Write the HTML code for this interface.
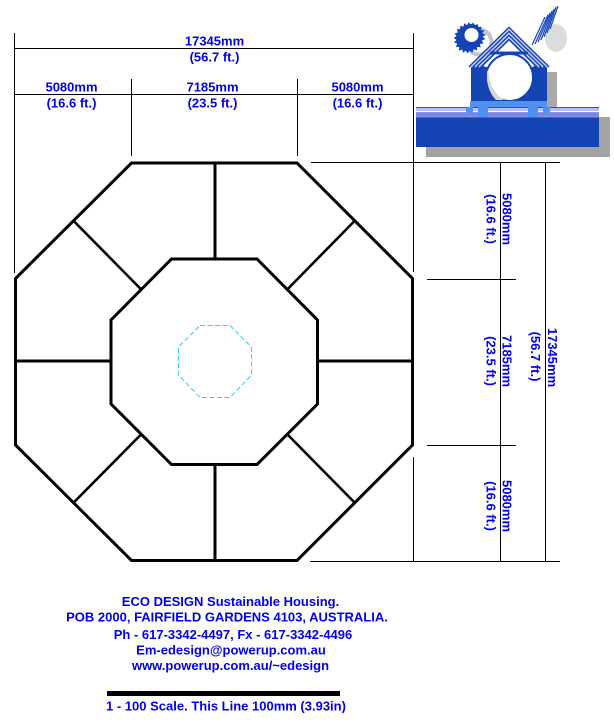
<!DOCTYPE html>
<html>
<head>
<meta charset="utf-8">
<style>
html,body{margin:0;padding:0;background:#fff;}
body{width:614px;height:724px;overflow:hidden;}
svg{display:block;}
text{font-family:"Liberation Sans",Arial,sans-serif;font-weight:bold;font-size:13px;fill:#0000ee;}
</style>
</head>
<body>
<svg width="614" height="724" viewBox="0 0 614 724" xmlns="http://www.w3.org/2000/svg">
<rect x="0" y="0" width="614" height="724" fill="#fff"/>

<!-- thin dimension lines -->
<g stroke="#000" stroke-width="1" fill="none" shape-rendering="crispEdges">
  <line x1="14.5" y1="33" x2="14.5" y2="273"/>
  <line x1="413.5" y1="33" x2="413.5" y2="272"/>
  <line x1="14.5" y1="48.5" x2="413.5" y2="48.5"/>
  <line x1="14.5" y1="94.5" x2="413.5" y2="94.5"/>
  <line x1="131.5" y1="79" x2="131.5" y2="156"/>
  <line x1="297.5" y1="79" x2="297.5" y2="156"/>
  <line x1="311" y1="162.5" x2="560" y2="162.5"/>
  <line x1="310" y1="561.5" x2="560" y2="561.5"/>
  <line x1="413.5" y1="457" x2="413.5" y2="561"/>
  <line x1="500.5" y1="162" x2="500.5" y2="561"/>
  <line x1="545.5" y1="162" x2="545.5" y2="561"/>
  <line x1="427" y1="279.5" x2="516" y2="279.5"/>
  <line x1="427" y1="445.5" x2="516" y2="445.5"/>
</g>

<!-- top dimension labels -->
<text x="214.5" y="45.5" text-anchor="middle">17345mm</text>
<text x="214.5" y="61.5" text-anchor="middle">(56.7 ft.)</text>
<text x="71.5" y="91.5" text-anchor="middle">5080mm</text>
<text x="71.5" y="107.5" text-anchor="middle">(16.6 ft.)</text>
<text x="212.5" y="91.5" text-anchor="middle">7185mm</text>
<text x="212.5" y="107.5" text-anchor="middle">(23.5 ft.)</text>
<text x="357.5" y="91.5" text-anchor="middle">5080mm</text>
<text x="357.5" y="107.5" text-anchor="middle">(16.6 ft.)</text>

<!-- right vertical labels -->
<text transform="translate(502.5,219) rotate(90)" text-anchor="middle">5080mm</text>
<text transform="translate(486.5,219) rotate(90)" text-anchor="middle">(16.6 ft.)</text>
<text transform="translate(502.5,361) rotate(90)" text-anchor="middle">7185mm</text>
<text transform="translate(486.5,361) rotate(90)" text-anchor="middle">(23.5 ft.)</text>
<text transform="translate(502.5,506) rotate(90)" text-anchor="middle">5080mm</text>
<text transform="translate(486.5,506) rotate(90)" text-anchor="middle">(16.6 ft.)</text>
<text transform="translate(548,357.5) rotate(90)" text-anchor="middle">17345mm</text>
<text transform="translate(531,356.5) rotate(90)" text-anchor="middle">(56.7 ft.)</text>

<!-- octagon plan -->
<g stroke="#000" stroke-width="3" fill="none" stroke-linejoin="miter">
  <polygon points="131.5,163 297,163 412.5,278.5 412.5,445 297,560.5 131.5,560.5 15.5,445 15.5,278.5"/>
  <polygon points="171.5,259 257,259 317.5,320 317.5,404 257,464.5 171.5,464.5 111,404 111,320"/>
  <line x1="215" y1="163" x2="215" y2="259"/>
  <line x1="215" y1="464.5" x2="215" y2="560.5"/>
  <line x1="15.5" y1="361" x2="111" y2="361"/>
  <line x1="317.5" y1="361" x2="412.5" y2="361"/>
</g>
<g stroke="#000" stroke-width="2.6" fill="none">
  <line x1="73.5" y1="220.75" x2="141.25" y2="289.5"/>
  <line x1="354.75" y1="220.75" x2="287.25" y2="289.5"/>
  <line x1="73.5" y1="502.75" x2="141.25" y2="434.25"/>
  <line x1="354.75" y1="502.75" x2="287.25" y2="434.25"/>
</g>
<polygon points="200,325.5 230,325.5 251.5,347 251.5,375 230,397.5 200,397.5 178.5,375 178.5,347" fill="none" stroke="#33ccff" stroke-width="1" stroke-dasharray="5 2.5"/>

<!-- LOGO -->
<g>
  <!-- shadows -->
  <rect x="426" y="117" width="184" height="40" fill="#a3a3a3"/>
  <rect x="547" y="72" width="10" height="36" fill="#a8a8a8"/>
  <circle cx="479" cy="42" r="12.5" fill="none" stroke="#c4c4c4" stroke-width="4"/>
  <ellipse cx="556" cy="38" rx="11" ry="14" fill="#dcdcdc"/>
  <!-- base -->
  <rect x="416" y="107" width="183" height="40" fill="#1444b4"/>
  <rect x="416" y="107" width="183" height="11" fill="#8a94e6"/>
  <rect x="416" y="108" width="183" height="3" fill="#b4bcf6"/>
  <rect x="416" y="111" width="183" height="1" fill="#ffffff"/>
  <rect x="416" y="113" width="183" height="3" fill="#7c86e0"/>
  <rect x="416" y="117" width="183" height="1" fill="#4a5ccc"/>
  <rect x="416" y="107" width="183" height="1" fill="#3050c0"/>
  <g fill="#2a50c8" opacity="0.6">
    <rect x="430" y="125" width="1" height="1"/><rect x="452" y="132" width="1" height="1"/>
    <rect x="478" y="128" width="1" height="1"/><rect x="505" y="138" width="1" height="1"/>
    <rect x="540" y="126" width="1" height="1"/><rect x="570" y="135" width="1" height="1"/>
  </g>
  <!-- house walls -->
  <rect x="471" y="66" width="76" height="36" fill="#1444b4"/>
  <!-- white area under roof -->
  <polygon points="484,67 509,42 534,67" fill="#ffffff"/>
  <!-- roof stripes -->
  <g fill="none" stroke-width="1.6">
    <polyline points="469,67 509,27.5 549,67" stroke="#1444b4"/>
    <polyline points="471,67 509,29.5 547,67" stroke="#c8d0ff"/>
    <polyline points="473,67 509,31.5 545,67" stroke="#1444b4"/>
    <polyline points="475,67 509,33.5 543,67" stroke="#c8d0ff"/>
    <polyline points="477,67 509,35.5 541,67" stroke="#1444b4"/>
    <polyline points="479,67 509,37.5 539,67" stroke="#c8d0ff"/>
    <polyline points="481,67 509,39.5 537,67" stroke="#1444b4"/>
  </g>
  <line x1="490" y1="53" x2="528" y2="53" stroke="#1444b4" stroke-width="3"/>
  <!-- circle window -->
  <circle cx="509.5" cy="77.5" r="23.5" fill="#ffffff" stroke="#1444b4" stroke-width="2"/>
  <path d="M488,70 Q490,92 504,100 L496,100 Q486,90 487,72 Z" fill="#d6d6d6"/>
  <!-- light blue bar & tabs -->
  <rect x="470" y="101" width="77" height="6" fill="#5090f0"/>
  <rect x="478" y="101" width="10" height="16" fill="#5090f0"/>
  <rect x="528" y="101" width="10" height="16" fill="#5090f0"/>
  <rect x="466" y="107" width="7" height="6" fill="#5090f0"/>
  <rect x="543" y="107" width="7" height="6" fill="#5090f0"/>
  <!-- sun -->
  <polygon fill="#1444b4" points="486,34.5 482.7,36.9 485.3,39.1 481.7,40.6 483.6,43.4 479.8,44 480.8,47.3 477,47 477,50.4 473.6,49.4 472.4,52.6 469.6,50.6 467.6,53.3 465.6,50.6 463,52.9 462.2,49.5 458.8,50.6 459.2,47 455.8,46.9 457.3,43.6 454.1,42.6 456.3,39.9 453.6,37.9 456.5,36.2 454.6,33.3 457.8,32.5 456.9,29.1 460.3,29.1 460.2,25.6 463.4,26.8 464.2,23.3 467,25.3 468.7,22.2 470.8,24.9 473.2,22.4 474.5,25.6 477.7,24 478.1,27.5 481.5,26.6 481,30.1 484.4,30.2 482.6,33.2"/>
  <circle cx="471.5" cy="35" r="11" fill="#1444b4"/>
  <circle cx="471.5" cy="35" r="7" fill="#ffffff"/>
  <!-- rain -->
  <g stroke="#1444b4" stroke-width="1.2">
    <line x1="532" y1="45" x2="545" y2="17"/>
    <line x1="535" y1="44" x2="548" y2="15"/>
    <line x1="538" y1="42" x2="550" y2="13"/>
    <line x1="541" y1="40" x2="552" y2="11"/>
    <line x1="544" y1="37" x2="554" y2="9"/>
    <line x1="547" y1="33" x2="556" y2="7"/>
    <line x1="550" y1="29" x2="558" y2="6"/>
  </g>
</g>

<!-- footer text -->
<text x="230.5" y="606" text-anchor="middle">ECO DESIGN Sustainable Housing.</text>
<text x="227" y="621.5" text-anchor="middle">POB 2000, FAIRFIELD GARDENS 4103, AUSTRALIA.</text>
<text x="233" y="639" text-anchor="middle">Ph - 617-3342-4497, Fx - 617-3342-4496</text>
<text x="231" y="654.5" text-anchor="middle">Em-edesign@powerup.com.au</text>
<text x="230.5" y="670" text-anchor="middle">www.powerup.com.au/~edesign</text>
<rect x="107" y="691" width="233" height="5" fill="#000"/>
<text x="226" y="710.5" text-anchor="middle">1 - 100 Scale. This Line 100mm (3.93in)</text>
</svg>
</body>
</html>
